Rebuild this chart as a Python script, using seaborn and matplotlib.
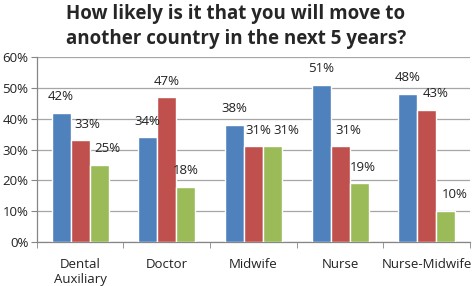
import pandas as pd
import seaborn as sns
import matplotlib.pyplot as plt
from matplotlib.ticker import FixedLocator, PercentFormatter

categories = ["Dental\nAuxiliary", "Doctor", "Midwife", "Nurse", "Nurse-Midwife"]
series = ["Series 1", "Series 2", "Series 3"]
series1 = [42, 34, 38, 51, 48]
series2 = [33, 47, 31, 31, 43]
series3 = [25, 18, 31, 19, 10]
colors = ["#4F81BD", "#C0504D", "#9BBB59"]
# sideways nudge (pixels) of the value labels, as the original program placed them
label_nudge = [[0, 0, 0, 0, 0], [7, 0, 5, 8, 9], [8, 0, 14, 4, 9]]

rows = []
for name, vals in zip(series, [series1, series2, series3]):
    for cat, v in zip(categories, vals):
        rows.append({"category": cat, "series": name, "value": v})
df = pd.DataFrame(rows)

sns.set_style("white")
plt.rcParams["font.family"] = ["Open Sans", "DejaVu Sans"]

fig = plt.figure(figsize=(4.72, 2.86), dpi=100)
ax = fig.add_axes([0.078, 0.154, 0.918, 0.646])

sns.barplot(data=df, x="category", y="value", hue="series", order=categories,
            hue_order=series, palette=colors, width=0.66, saturation=1,
            legend=False, ax=ax, zorder=3)

for cont, nudges in zip(ax.containers, label_nudge):
    for bar, dx in zip(cont, nudges):
        h = bar.get_height()
        ax.annotate(f"{int(round(h))}%", (bar.get_x() + bar.get_width() / 2, h),
                    xytext=(dx * 0.72, 7), textcoords="offset points",
                    ha="center", va="bottom", fontsize=9.5, color="#222222")

ax.set_ylim(0, 60)
ax.set_xlim(-0.5, 4.5)
ax.set_yticks(range(0, 61, 10))
ax.yaxis.set_major_formatter(PercentFormatter(decimals=0))
ax.grid(axis="y", color="#A6A6A6", linewidth=0.9, zorder=0)
ax.set_axisbelow(True)
ax.set_xlabel("")
ax.set_ylabel("")

for side in ["top", "right"]:
    ax.spines[side].set_visible(False)
for side in ["left", "bottom"]:
    ax.spines[side].set_color("#868686")
    ax.spines[side].set_linewidth(0.9)

ax.tick_params(axis="y", which="major", left=True, length=4, color="#868686",
               labelsize=9.5, labelcolor="#222222", pad=2)
ax.tick_params(axis="x", which="major", bottom=False, labelsize=9.5,
               labelcolor="#222222", pad=8)
ax.xaxis.set_minor_locator(FixedLocator([i + 0.5 for i in range(-1, 5)]))
ax.tick_params(axis="x", which="minor", bottom=True, length=4, color="#868686")

fig.suptitle("How likely is it that you will move to\nanother country in the next 5 years?",
             fontsize=13.5, fontweight="bold", y=0.985, linespacing=1.3)

fig.savefig("out.png", dpi=100)
